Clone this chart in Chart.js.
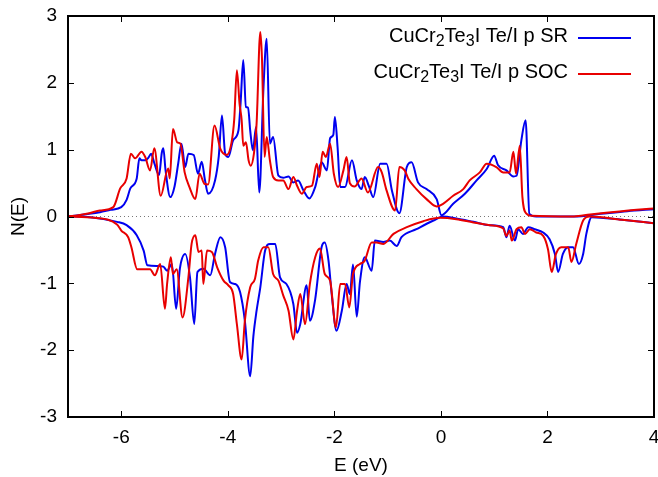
<!DOCTYPE html>
<html>
<head>
<meta charset="utf-8">
<script src="https://cdn.jsdelivr.net/npm/chart.js@4.4.0/dist/chart.umd.min.js"></script>
<style>
  body { margin: 0; background: #fff; }
  #wrap { width: 658px; height: 477px; }
</style>
</head>
<body>
<div id="wrap"><canvas id="dos" width="658" height="477"></canvas></div>
<script>
// spin-up, scalar relativistic (blue)
const srUpE = [-7.0, -6.8, -6.6, -6.4, -6.2, -6.0, -5.9, -5.83, -5.71, -5.66, -5.62, -5.55, -5.49, -5.44, -5.38, -5.29, -5.24, -5.21, -5.17, -5.08, -5.0, -4.93, -4.87, -4.8, -4.74, -4.64, -4.56, -4.49, -4.43, -4.37, -4.24, -4.17, -4.11, -4.05, -3.99, -3.9, -3.8, -3.76, -3.71, -3.66, -3.62, -3.58, -3.53, -3.47, -3.41, -3.33, -3.27, -3.21, -3.15, -3.05, -2.96, -2.86, -2.77, -2.68, -2.58, -2.47, -2.36, -2.24, -2.14, -2.08, -2.02, -1.99, -1.94, -1.89, -1.8, -1.67, -1.58, -1.49, -1.43, -1.35, -1.27, -1.14, -1.02, -0.92, -0.78, -0.64, -0.55, -0.43, -0.27, -0.08, 0.01, 0.23, 0.45, 0.67, 0.86, 1.0, 1.07, 1.23, 1.36, 1.42, 1.51, 1.59, 1.66, 1.79, 2.5, 3.0, 3.5, 4.0];
const srUpN = [0, 0.02, 0.04, 0.065, 0.1, 0.14, 0.25, 0.42, 0.57, 0.87, 0.84, 0.84, 0.88, 0.94, 0.8, 0.62, 0.95, 1.02, 0.7, 0.29, 0.45, 0.8, 1.09, 0.74, 0.94, 0.92, 0.64, 0.82, 0.55, 0.34, 0.54, 0.9, 1.51, 0.94, 0.89, 1.14, 1.29, 1.7, 2.34, 1.64, 1.63, 1.29, 0.99, 1.34, 0.36, 1.94, 2.66, 1.09, 1.19, 0.61, 0.58, 0.6, 0.51, 0.54, 0.39, 0.27, 0.44, 0.81, 0.69, 1.17, 1.22, 1.49, 1.04, 0.44, 0.44, 0.84, 0.54, 0.41, 0.59, 0.45, 0.29, 0.79, 0.79, 0.39, 0.05, 0.74, 0.81, 0.51, 0.41, 0.26, 0.02, 0.19, 0.34, 0.54, 0.71, 0.91, 0.77, 0.69, 0.6, 0.61, 1.14, 1.44, 0.04, 0.0, 0.0, 0.04, 0.08, 0.11];

// spin-up, spin-orbit coupling (red)
const socUpE = [-7.0, -6.8, -6.6, -6.4, -6.15, -6.02, -5.9, -5.82, -5.74, -5.62, -5.55, -5.46, -5.38, -5.26, -5.12, -5.09, -5.03, -4.95, -4.89, -4.81, -4.72, -4.61, -4.53, -4.44, -4.37, -4.25, -4.14, -4.02, -3.93, -3.88, -3.83, -3.78, -3.74, -3.71, -3.66, -3.61, -3.57, -3.51, -3.46, -3.39, -3.36, -3.31, -3.27, -3.21, -3.15, -3.05, -2.96, -2.86, -2.77, -2.7, -2.61, -2.52, -2.42, -2.33, -2.28, -2.22, -2.16, -2.08, -2.01, -1.93, -1.83, -1.77, -1.71, -1.62, -1.49, -1.37, -1.18, -1.11, -1.02, -0.86, -0.78, -0.68, -0.61, -0.46, -0.27, -0.08, 0.04, 0.23, 0.42, 0.54, 0.73, 0.86, 1.04, 1.17, 1.29, 1.36, 1.41, 1.48, 1.53, 1.61, 1.7, 2.5, 2.8, 3.4, 4.0];
const socUpN = [0, 0.02, 0.05, 0.09, 0.14, 0.42, 0.57, 0.94, 0.87, 0.97, 0.89, 0.69, 1.02, 0.31, 0.72, 0.57, 1.31, 1.11, 1.09, 0.66, 0.44, 0.26, 0.64, 0.49, 0.48, 1.36, 1.01, 0.92, 1.11, 1.45, 2.19, 1.69, 1.44, 1.06, 1.11, 0.84, 0.76, 0.94, 1.39, 2.76, 2.39, 0.89, 1.19, 0.84, 0.59, 0.54, 0.54, 0.41, 0.59, 0.46, 0.34, 0.44, 0.46, 0.79, 0.59, 0.97, 0.89, 1.09, 0.64, 0.44, 0.69, 0.89, 0.5, 0.45, 0.57, 0.36, 0.74, 0.66, 0.39, 0.09, 0.74, 0.69, 0.56, 0.41, 0.26, 0.15, 0.19, 0.31, 0.41, 0.54, 0.66, 0.79, 0.74, 0.66, 0.66, 0.97, 0.64, 1.06, 0.29, 0.04, 0.01, 0.0, 0.03, 0.08, 0.12];

// spin-down, scalar relativistic (blue)
const srDnE = [-7.0, -6.58, -6.08, -5.9, -5.71, -5.58, -5.51, -5.33, -5.21, -5.14, -5.05, -4.97, -4.9, -4.8, -4.71, -4.63, -4.57, -4.46, -4.33, -4.24, -4.14, -4.05, -3.96, -3.86, -3.77, -3.68, -3.58, -3.52, -3.46, -3.39, -3.3, -3.21, -3.11, -3.02, -2.9, -2.77, -2.7, -2.64, -2.52, -2.46, -2.36, -2.24, -2.18, -2.11, -2.05, -1.96, -1.86, -1.77, -1.71, -1.65, -1.58, -1.52, -1.43, -1.3, -1.24, -1.08, -0.96, -0.83, -0.74, -0.46, -0.14, 0.04, 0.29, 0.61, 0.92, 1.17, 1.23, 1.29, 1.39, 1.45, 1.54, 1.64, 1.76, 1.92, 2.04, 2.14, 2.2, 2.29, 2.39, 2.48, 2.59, 2.67, 2.73, 2.83, 3.4, 4.0];
const srDnN = [0, -0.01, -0.08, -0.13, -0.28, -0.51, -0.73, -0.74, -0.75, -0.81, -0.71, -1.38, -0.78, -0.56, -0.91, -1.61, -0.83, -0.78, -0.88, -0.56, -0.31, -0.46, -0.98, -1.01, -1.13, -1.56, -2.39, -1.79, -1.41, -1.06, -0.51, -0.41, -0.41, -0.91, -1.01, -1.31, -1.74, -1.61, -1.03, -1.56, -1.24, -0.46, -0.39, -0.66, -1.16, -1.71, -1.41, -1.01, -1.16, -0.72, -1.5, -0.98, -0.61, -0.81, -0.36, -0.38, -0.36, -0.44, -0.31, -0.19, -0.06, 0, -0.03, -0.08, -0.13, -0.16, -0.31, -0.14, -0.36, -0.19, -0.26, -0.16, -0.19, -0.24, -0.34, -0.56, -0.83, -0.56, -0.46, -0.46, -0.71, -0.56, -0.26, -0.01, -0.05, -0.1];

// spin-down, spin-orbit coupling (red)
const socDnE = [-7.0, -6.5, -6.08, -6.0, -5.87, -5.81, -5.7, -5.46, -5.37, -5.27, -5.18, -5.14, -5.07, -5.03, -4.96, -4.85, -4.74, -4.68, -4.61, -4.55, -4.49, -4.46, -4.39, -4.3, -4.2, -4.08, -3.99, -3.9, -3.83, -3.74, -3.68, -3.58, -3.49, -3.43, -3.33, -3.24, -3.15, -3.05, -2.96, -2.86, -2.77, -2.7, -2.64, -2.55, -2.46, -2.36, -2.27, -2.18, -2.08, -1.97, -1.89, -1.8, -1.72, -1.65, -1.52, -1.43, -1.3, -1.21, -1.08, -0.89, -0.64, -0.33, -0.02, 0.29, 0.61, 0.92, 1.17, 1.23, 1.29, 1.33, 1.42, 1.51, 1.58, 1.67, 1.79, 1.92, 2.01, 2.08, 2.16, 2.26, 2.39, 2.45, 2.54, 2.67, 2.79, 3.4, 4.0];
const socDnN = [0, -0.02, -0.12, -0.21, -0.31, -0.46, -0.79, -0.79, -0.88, -0.71, -1.38, -1.01, -0.61, -0.86, -0.79, -1.51, -0.91, -0.41, -0.28, -0.53, -0.51, -1.01, -0.51, -0.53, -0.76, -0.96, -1.03, -1.16, -1.61, -2.14, -1.56, -1.06, -0.93, -0.66, -0.46, -0.46, -0.86, -0.96, -1.18, -1.41, -1.84, -1.41, -1.16, -1.61, -1.01, -0.61, -0.48, -0.86, -0.96, -1.66, -1.01, -1.01, -1.36, -0.86, -0.71, -0.66, -0.39, -0.39, -0.41, -0.26, -0.16, -0.07, -0.02, -0.04, -0.09, -0.13, -0.18, -0.29, -0.21, -0.36, -0.19, -0.16, -0.26, -0.19, -0.24, -0.29, -0.49, -0.83, -0.56, -0.46, -0.46, -0.68, -0.41, -0.06, 0, -0.05, -0.1];

const xTicks = [-6, -4, -2, 0, 2, 4];
const yTicks = [-3, -2, -1, 0, 1, 2, 3];
const legendLabels = ['CuCr_2Te_3I Te/I p SR', 'CuCr_2Te_3I Te/I p SOC'];

const BLUE = '#0000f0';
const RED = '#e80000';
const FONT = '"Liberation Sans", Arial, sans-serif';

function pts(xs, ys) {
    return xs.map((v, i) => ({ x: v, y: ys[i] }));
}

function curve(xs, ys, color) {
    return {
        data: pts(xs, ys),
        borderColor: color,
        borderWidth: 2,
        pointRadius: 0,
        showLine: true,
        cubicInterpolationMode: 'monotone'
    };
}

// draws "CuCr_2..." with subscripts, right aligned at rx
function drawRich(ctx, text, rx, cy) {
    const parts = text.split(/_(\d)/);
    const big = '20px ' + FONT, small = '16px ' + FONT;
    let w = 0;
    parts.forEach((p, i) => {
        ctx.font = i % 2 ? small : big;
        w += ctx.measureText(p).width;
    });
    let x = rx - w;
    ctx.textBaseline = 'middle';
    ctx.textAlign = 'left';
    parts.forEach((p, i) => {
        ctx.font = i % 2 ? small : big;
        ctx.fillText(p, x, i % 2 ? cy + 6 : cy);
        x += ctx.measureText(p).width;
    });
}

const frame = {
    id: 'frame',
    afterDraw(chart) {
        const { ctx, chartArea: a, scales: { x, y } } = chart;
        ctx.save();
        ctx.strokeStyle = '#000';
        ctx.lineWidth = 1;
        ctx.beginPath();
        x.ticks.forEach(t => {
            const px = Math.round(x.getPixelForValue(t.value)) + 0.5;
            ctx.moveTo(px, a.bottom); ctx.lineTo(px, a.bottom - 6);
            ctx.moveTo(px, a.top); ctx.lineTo(px, a.top + 6);
        });
        y.ticks.forEach(t => {
            const py = Math.round(y.getPixelForValue(t.value)) + 0.5;
            ctx.moveTo(a.left, py); ctx.lineTo(a.left + 6, py);
            ctx.moveTo(a.right, py); ctx.lineTo(a.right - 6, py);
        });
        ctx.stroke();
        ctx.lineWidth = 2;
        ctx.strokeRect(a.left, a.top, a.right - a.left, a.bottom - a.top);

        // key, gnuplot style: text then sample line
        const colors = [BLUE, RED];
        legendLabels.forEach((lab, i) => {
            const cy = 37 + i * 36;
            ctx.fillStyle = '#000';
            drawRich(ctx, lab, 568, cy - 1);
            ctx.strokeStyle = colors[i];
            ctx.lineWidth = 2;
            ctx.beginPath();
            ctx.moveTo(578, cy + 1);
            ctx.lineTo(631, cy + 1);
            ctx.stroke();
        });
        ctx.restore();
    }
};

new Chart(document.getElementById('dos').getContext('2d'), {
    type: 'scatter',
    data: {
        datasets: [
            curve(socUpE, socUpN, RED),
            curve(socDnE, socDnN, RED),
            curve(srUpE, srUpN, BLUE),
            curve(srDnE, srDnN, BLUE),
            {
                data: pts([-7, 4], [0, 0]),
                borderColor: '#777',
                borderWidth: 1,
                borderDash: [1, 3],
                pointRadius: 0,
                showLine: true
            }
        ]
    },
    plugins: [frame],
    options: {
        responsive: false,
        animation: false,
        layout: { padding: { top: 16, right: 4, left: 0, bottom: 0 } },
        plugins: { legend: { display: false }, tooltip: { enabled: false } },
        scales: {
            x: {
                type: 'linear',
                min: -7,
                max: 4,
                afterBuildTicks: s => { s.ticks = xTicks.map(v => ({ value: v })); },
                afterFit: s => { s.height = 60; },
                grid: { display: false, drawTicks: true, tickLength: 10.5 },
                border: { display: false },
                ticks: { color: '#000', padding: -1.5, font: { family: FONT, size: 19 } },
                title: { display: true, text: 'E (eV)', color: '#000', padding: 0, font: { family: FONT, size: 19 } }
            },
            y: {
                type: 'linear',
                min: -3,
                max: 3,
                afterBuildTicks: s => { s.ticks = yTicks.map(v => ({ value: v })); },
                afterFit: s => { s.width = 68; },
                grid: { display: false, drawTicks: true, tickLength: 11 },
                border: { display: false },
                ticks: { color: '#000', padding: 0, font: { family: FONT, size: 19 } },
                title: { display: true, text: 'N(E)', color: '#000', padding: { top: 7, bottom: 0 }, font: { family: FONT, size: 19 } }
            }
        }
    }
});
</script>
</body>
</html>
